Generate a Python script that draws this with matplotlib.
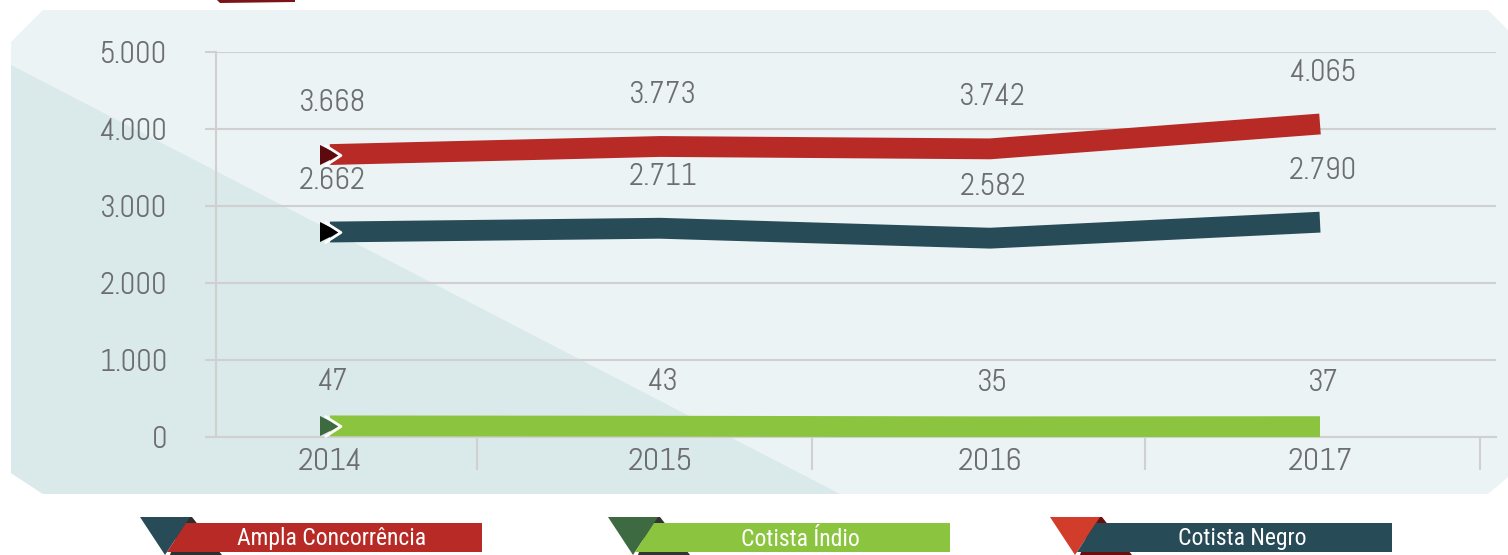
import matplotlib
matplotlib.use("Agg")
import matplotlib.pyplot as plt
import matplotlib.transforms as mtransforms
from matplotlib.path import Path
from matplotlib.patches import Polygon
import numpy as np

plt.rcParams['font.family'] = ['Abel', 'DejaVu Sans']

# ---- data ----
years = ["2014", "2015", "2016", "2017"]
ampla = [3668, 3773, 3742, 4065]
negro = [2662, 2711, 2582, 2790]
indio = [47, 43, 35, 37]
yticks = [0, 1000, 2000, 3000, 4000, 5000]
ytick_labels = ["0", "1.000", "2.000", "3.000", "4.000", "5.000"]
legend_labels = ["Ampla Concorrência", "Cotista Índio", "Cotista Negro"]

def fmt(v):
    return f"{v:,}".replace(",", ".")

RED = "#b82a25"
TEAL = "#284b58"
GREEN = "#8bc43f"
GRID = "#d0d0d0"
TXT = "#6d6e71"

W, H = 1508, 555
fig = plt.figure(figsize=(W / 100, H / 100), dpi=100)
fig.patch.set_facecolor("white")

# ---- background decoration (pixel coordinates) ----
bg = fig.add_axes([0, 0, 1, 1], zorder=0)
bg.set_xlim(0, W)
bg.set_ylim(H, 0)
bg.axis("off")
panel = [(43, 10), (1488, 10), (1508, 30), (1508, 477), (1488, 494), (43, 494), (11, 473), (11, 42)]
bg.add_patch(Polygon(panel, closed=True, facecolor="#ebf3f5", edgecolor="none"))
bg.add_patch(Polygon([(11, 65), (840, 494), (43, 494), (11, 473)], closed=True,
                     facecolor="#dae9ea", edgecolor="none"))
bg.add_patch(Polygon([(217, 0), (295, 0), (295, 2), (220, 3)], closed=True,
                     facecolor="#7a1417", edgecolor="none"))

# legend items
leg_specs = [
    (0, TEAL, RED, "#2e2e2e"),
    (468, "#3d6a40", GREEN, "#333333"),
    (910, "#d23c2a", TEAL, "#6b0e10"),
]
for (dx, tri_c, ban_c, dark_c), lab in zip(leg_specs, legend_labels):
    bg.add_patch(Polygon([(183 + dx, 517), (192 + dx, 517), (222 + dx, 555), (170 + dx, 555)],
                         closed=True, facecolor=dark_c, edgecolor="none"))
    bg.add_patch(Polygon([(140 + dx, 517), (190 + dx, 517), (165 + dx, 555)],
                         closed=True, facecolor=tri_c, edgecolor="none"))
    bg.add_patch(Polygon([(186 + dx, 523), (482 + dx, 523), (482 + dx, 552), (167 + dx, 552)],
                         closed=True, facecolor=ban_c, edgecolor="none"))
    bg.text(332 + dx, 539, lab, color="white", fontsize=17, ha="center", va="center",
            family=["Roboto Condensed", "Abel", "DejaVu Sans"])

# ---- main chart ----
x0px, spacing = 330, 330
left_px, right_px, top_px, bot_px = 216, 1496, 52, 437
ax = fig.add_axes([left_px / W, 1 - bot_px / H, (right_px - left_px) / W, (bot_px - top_px) / H], zorder=2)
ax.set_facecolor("none")
ax.set_xlim((left_px - x0px) / spacing, 3 + (right_px - (x0px + 3 * spacing)) / spacing)
ax.set_ylim(0, 5000)

x = np.arange(len(years))

ax.set_yticks(yticks)
ax.set_yticklabels(ytick_labels)
ax.yaxis.grid(True, color=GRID, linewidth=1.5)
ax.set_axisbelow(True)
ax.tick_params(axis="y", length=8, width=1.5, color=GRID, pad=27, labelsize=22, labelcolor=TXT)

ax.set_xticks(x)
ax.set_xticklabels(years)
ax.set_xticks([0.445, 1.46, 2.47, 3.485], minor=True)
ax.tick_params(axis="x", which="major", length=0, pad=8, labelsize=23, labelcolor=TXT)
ax.tick_params(axis="x", which="minor", length=24, width=1.5, color=GRID)

for s in ["top", "right"]:
    ax.spines[s].set_visible(False)
ax.spines["left"].set_color(GRID)
ax.spines["left"].set_linewidth(1.5)
ax.spines["bottom"].set_color(GRID)
ax.spines["bottom"].set_linewidth(1.5)

chevron = Path([(-0.55, 1), (1, 0), (-0.55, -1)], [Path.MOVETO, Path.LINETO, Path.LINETO])

series = [
    (ampla, RED, "#5c0a0e", 0),
    (negro, TEAL, "#000000", 0),
    (indio, GREEN, "#3d6a40", 7.5),
]
for vals, col, mcol, lift in series:
    tr = mtransforms.offset_copy(ax.transData, fig=fig, x=0, y=lift, units="dots")
    ax.plot(x, vals, color=col, linewidth=15, solid_capstyle="butt", solid_joinstyle="miter",
            transform=tr, zorder=3)
    ax.plot([x[0]], [vals[0]], marker=">", markersize=15, color=mcol, markeredgewidth=0,
            transform=tr, zorder=4, clip_on=False)
    ax.plot([x[0]], [vals[0]], marker=chevron, markersize=15, markerfacecolor="none",
            markeredgecolor="white", markeredgewidth=2, linestyle="none",
            transform=tr, zorder=5, clip_on=False)
    for xi, v in zip(x, vals):
        ax.annotate(fmt(v), (xi, v), xytext=(2, 37), textcoords="offset points",
                    ha="center", va="center", fontsize=22, color=TXT, zorder=6)

fig.savefig("out.png", dpi=100, facecolor="white")
